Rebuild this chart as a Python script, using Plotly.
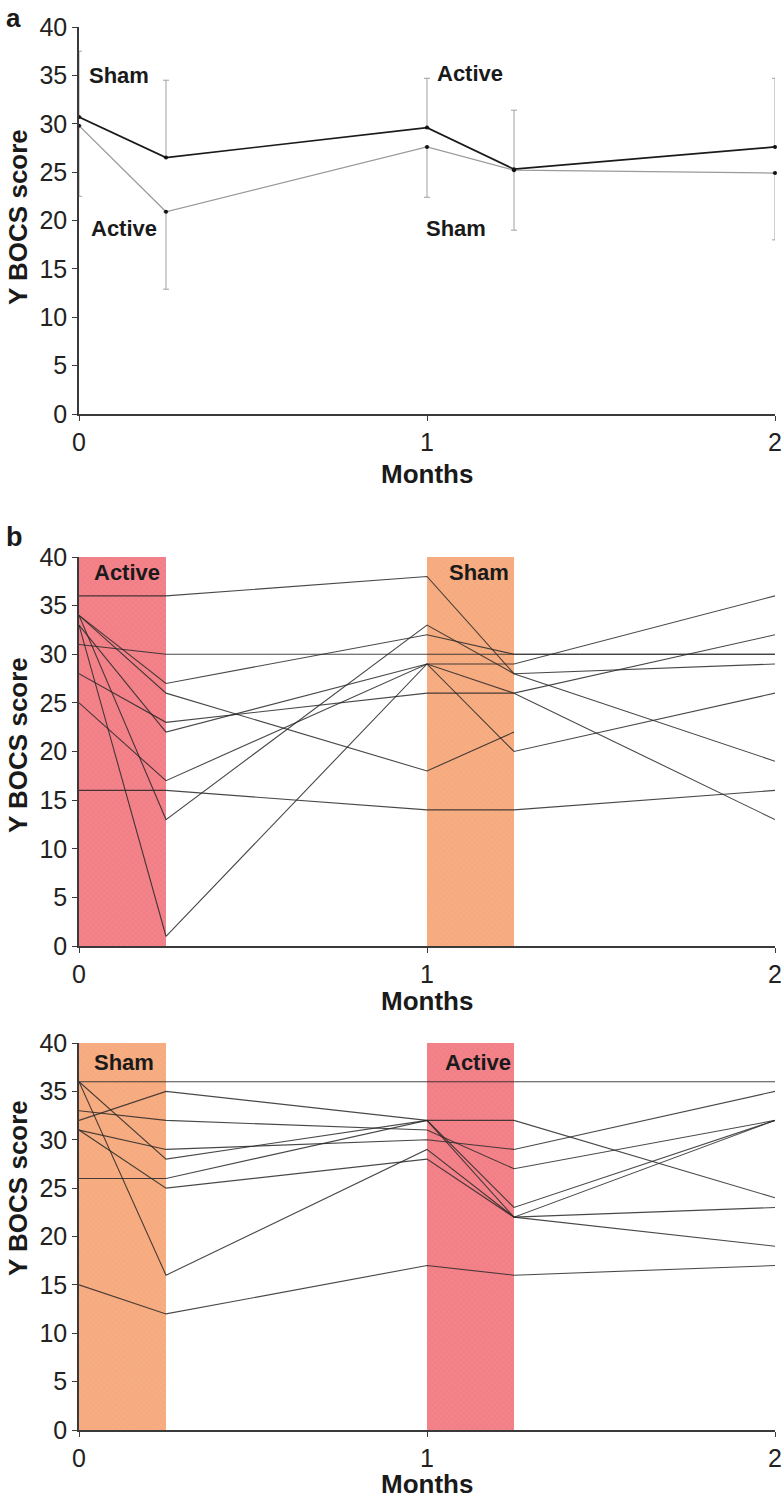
import plotly.graph_objects as go

# ---------------- data ----------------
months = [0, 0.25, 1, 1.25, 2]
y_ticks = [0, 5, 10, 15, 20, 25, 30, 35, 40]
x_ticks = [0, 1, 2]

# Panel a: group means with SD bars
sham_first_mean = [30.7, 26.5, 29.6, 25.3, 27.6]
sham_first_sd_up = [6.8, 8.0, 5.1, 6.1, 7.1]
active_first_mean = [29.8, 20.9, 27.6, 25.2, 24.9]
active_first_sd_down = [7.3, 8.0, 5.2, 6.2, 6.9]

# Panel b: individual patients, active stimulation first
active_first_patients = [
    [36, 36, 38, 28, 19],
    [31, 30, 30, 30, 30],
    [34, 27, 32, 30, 30],
    [34, 26, 18, 22, None],
    [28, 23, 26, 26, 32],
    [33, 22, 29, 29, 36],
    [25, 17, 29, 26, 13],
    [34, 13, 33, 28, 29],
    [33, 1, 29, 20, 26],
    [16, 16, 14, 14, 16],
]

# Panel c: individual patients, sham stimulation first
sham_first_patients = [
    [36, 36, 36, 36, 36],
    [32, 35, 32, 32, 24],
    [33, 32, 31, 27, 32],
    [31, 29, 30, 29, 35],
    [36, 28, 32, 23, 32],
    [26, 26, 32, 22, 32],
    [31, 25, 28, 22, 23],
    [36, 16, 29, 22, 19],
    [15, 12, 17, 16, 17],
]

# stimulation windows (months) and score ceiling
window_first = [0, 0.25]
window_second = [1, 1.25]
score_max = 40

ACTIVE_COL = "rgb(242,126,134)"
SHAM_COL = "rgb(246,170,126)"

W, H = 783, 1503
FONT = "Liberation Sans, Arial, Helvetica, sans-serif"

fig = go.Figure()

# pixel layout helpers
x_dom = [79 / W, 775 / W]
panels_px = [(27, 414), (557, 946), (1043, 1430)]
y_doms = [[1 - b / H, 1 - t / H] for t, b in panels_px]


def window_bar(win, color, xa, ya):
    return go.Bar(
        x=[(win[0] + win[1]) / 2], y=[score_max], base=0, width=[win[1] - win[0]],
        marker=dict(color=color, line=dict(width=0),
                    pattern=dict(shape="x", size=4, solidity=0.12,
                                 fgcolor="rgba(255,255,255,0.45)")),
        xaxis=xa, yaxis=ya, showlegend=False, hoverinfo="skip")


# Panel a
fig.add_trace(go.Scatter(
    x=months, y=active_first_mean, mode="lines+markers",
    line=dict(color="#9a9a9a", width=1.3),
    marker=dict(color="#111", size=4),
    error_y=dict(type="data", symmetric=False, array=[0] * 5,
                 arrayminus=active_first_sd_down, color="#a0a0a0",
                 thickness=1, width=3),
    cliponaxis=False, xaxis="x", yaxis="y", showlegend=False))
fig.add_trace(go.Scatter(
    x=months, y=sham_first_mean, mode="lines+markers",
    line=dict(color="#1a1a1a", width=1.7),
    marker=dict(color="#111", size=4),
    error_y=dict(type="data", symmetric=False, array=sham_first_sd_up,
                 arrayminus=[0] * 5, color="#a0a0a0", thickness=1, width=3),
    cliponaxis=False, xaxis="x", yaxis="y", showlegend=False))

# Panel b
fig.add_trace(window_bar(window_first, ACTIVE_COL, "x2", "y2"))
fig.add_trace(window_bar(window_second, SHAM_COL, "x2", "y2"))
for p in active_first_patients:
    fig.add_trace(go.Scatter(x=months, y=p, mode="lines",
                             line=dict(color="rgba(40,40,40,0.85)", width=1.1),
                             connectgaps=False, cliponaxis=False,
                             xaxis="x2", yaxis="y2", showlegend=False))

# Panel c
fig.add_trace(window_bar(window_first, SHAM_COL, "x3", "y3"))
fig.add_trace(window_bar(window_second, ACTIVE_COL, "x3", "y3"))
for p in sham_first_patients:
    fig.add_trace(go.Scatter(x=months, y=p, mode="lines",
                             line=dict(color="rgba(40,40,40,0.85)", width=1.1),
                             cliponaxis=False,
                             xaxis="x3", yaxis="y3", showlegend=False))

axis_common_x = dict(range=[0, 2], tickvals=x_ticks, showgrid=False, zeroline=False,
                     showline=True, linecolor="#3a3a3a", linewidth=2,
                     ticks="outside", ticklen=5, tickcolor="#3a3a3a",
                     tickfont=dict(family=FONT, size=25, color="#222"),
                     domain=x_dom, automargin=False)
axis_common_y = dict(range=[0, 40], tickvals=y_ticks, showgrid=False, zeroline=False,
                     showline=True, linecolor="#3a3a3a", linewidth=1.5,
                     ticks="outside", ticklen=5, tickcolor="#3a3a3a",
                     tickfont=dict(family=FONT, size=25, color="#222"),
                     automargin=False)

layout = dict(width=W, height=H, margin=dict(l=0, r=0, t=0, b=0, autoexpand=False),
              plot_bgcolor="white", paper_bgcolor="white", barmode="overlay",
              bargap=0)
for i, (xa, ya) in enumerate([("xaxis", "yaxis"), ("xaxis2", "yaxis2"), ("xaxis3", "yaxis3")]):
    sfx = "" if i == 0 else str(i + 1)
    layout[xa] = dict(axis_common_x, anchor="y" + sfx)
    layout[ya] = dict(axis_common_y, anchor="x" + sfx, domain=y_doms[i])
fig.update_layout(**layout)

anns = []


def lbl(text, x, y, xref, yref, size=22, xanchor="left"):
    anns.append(dict(text="<b>%s</b>" % text, x=x, y=y, xref=xref, yref=yref,
                     xanchor=xanchor, yanchor="middle", showarrow=False,
                     font=dict(family=FONT, size=size, color="#1a1a1a")))


# in-plot labels
lbl("Sham", 0.023, 35.0, "x", "y")
lbl("Active", 0.029, 19.2, "x", "y")
lbl("Active", 1.023, 35.2, "x", "y")
lbl("Sham", 0.991, 19.2, "x", "y")
lbl("Active", 0.037, 38.4, "x2", "y2")
lbl("Sham", 1.057, 38.4, "x2", "y2")
lbl("Sham", 0.037, 38.0, "x3", "y3")
lbl("Active", 1.046, 38.0, "x3", "y3")

# axis titles
for cy in [217, 745, 1188]:
    anns.append(dict(text="<b>Y BOCS score</b>", x=18 / W, y=1 - cy / H,
                     xref="paper", yref="paper", textangle=-90, showarrow=False,
                     xanchor="center", yanchor="middle",
                     font=dict(family=FONT, size=26, color="#1a1a1a")))
for cy in [474, 1001, 1484]:
    anns.append(dict(text="<b>Months</b>", x=427 / W, y=1 - cy / H,
                     xref="paper", yref="paper", showarrow=False,
                     xanchor="center", yanchor="middle",
                     font=dict(family=FONT, size=26, color="#1a1a1a")))

# panel letters
anns.append(dict(text="<b>a</b>", x=4 / W, y=1 - 1 / H, xref="paper", yref="paper",
                 xanchor="left", yanchor="top", showarrow=False,
                 font=dict(family=FONT, size=26, color="#1a1a1a")))
anns.append(dict(text="<b>b</b>", x=4 / W, y=1 - 537 / H, xref="paper", yref="paper",
                 xanchor="left", yanchor="middle", showarrow=False,
                 font=dict(family=FONT, size=27, color="#1a1a1a")))
fig.update_layout(annotations=anns)

fig.write_html(
    "out.html",
    config={"displayModeBar": False},
    post_script="document.body.style.margin='0';document.body.style.overflow='hidden';",
)
